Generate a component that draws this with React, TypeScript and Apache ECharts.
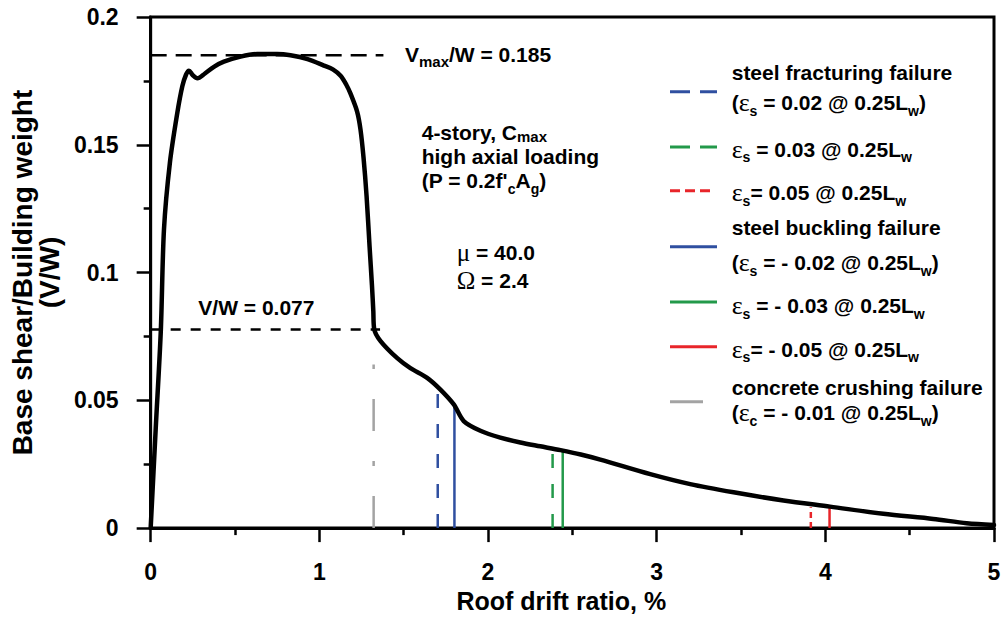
import React, { useEffect, useRef } from "react";
import * as echarts from "echarts";

// ---------- data ----------
const driftTicks = [0, 1, 2, 3, 4, 5];
const shearTicks = [0, 0.05, 0.1, 0.15, 0.2];

// pushover curve: [roof drift ratio %, V/W]
const pushoverCurve: [number, number][] = [
  [0, 0], [0.03, 0.039], [0.06, 0.077], [0.079, 0.117], [0.114, 0.143],
  [0.158, 0.1625], [0.188, 0.173], [0.21, 0.1775], [0.227, 0.179], [0.25, 0.1772],
  [0.277, 0.176], [0.32, 0.1778], [0.375, 0.1805], [0.434, 0.1825], [0.533, 0.1845],
  [0.632, 0.1855], [0.75, 0.1855], [0.829, 0.185], [0.93, 0.1835], [1.027, 0.181],
  [1.08, 0.1795], [1.126, 0.177], [1.16, 0.1735], [1.185, 0.17], [1.224, 0.163],
  [1.244, 0.156], [1.262, 0.145], [1.28, 0.13], [1.298, 0.11], [1.312, 0.095],
  [1.32, 0.085], [1.325, 0.078], [1.363, 0.0732], [1.462, 0.0665], [1.54, 0.0626],
  [1.639, 0.0588], [1.718, 0.0542], [1.797, 0.0484], [1.856, 0.0419], [1.955, 0.0381],
  [2.073, 0.0354], [2.192, 0.0335], [2.31, 0.032], [2.43, 0.0305], [2.55, 0.0288],
  [2.666, 0.0268], [2.962, 0.0211], [3.199, 0.0172], [3.456, 0.014], [3.752, 0.0108],
  [4.028, 0.0084], [4.344, 0.0056], [4.64, 0.0036], [4.838, 0.0019], [5, 0.0012],
];

const vMax = 0.185;
const vMaxLineEnd = 1.38;
const vResidual = 0.0777;
const vResidualLineEnd = 1.36;

// steel fracturing failure (dashed) drift and curve height
const fractureDrift = [1.702, 2.383, 3.914];
const fractureTop = [0.0549, 0.031, 0.0082];
// steel buckling failure (solid)
const bucklingDrift = [1.801, 2.443, 4.025];
const bucklingTop = [0.0477, 0.0305, 0.0088];
// concrete crushing failure
const crushingDrift = 1.322;
const crushingTop = 0.064;

const strainLabels = ["0.02", "0.03", "0.05"];
const failureColors = ["#2f4fa0", "#23994a", "#e8252a"];
const crushColor = "#a3a3a3";

const F = "Liberation Sans";

function makeRich(lh: number): any {
  return {
    n: { fontFamily: F, fontWeight: "bold", fontSize: 21, lineHeight: lh, fill: "#000" },
    s: { fontFamily: F, fontWeight: "bold", fontSize: 14, lineHeight: 14, padding: [16, 0, 0, 0], fill: "#000" },
    m: { fontFamily: F, fontWeight: "bold", fontSize: 15, lineHeight: 15, padding: [14, 0, 0, 0], fill: "#000" },
    m2: { fontFamily: F, fontWeight: "bold", fontSize: 15, lineHeight: 15, padding: [7, 0, 0, 0], fill: "#000" },
    e: { fontFamily: "Liberation Serif", fontSize: 26, lineHeight: lh, fill: "#000" },
    g: { fontFamily: "Liberation Serif", fontSize: 25, lineHeight: lh, fill: "#000" },
  };
}
const richStd = makeRich(22);

function txt(x: number, baseline: number, text: string, rich: any = richStd) {
  return {
    type: "text",
    x,
    y: baseline - 7.5,
    silent: true,
    z: 20,
    style: { text, rich, align: "left", verticalAlign: "middle", fill: "#000" },
  };
}

function swatch(y: number, color: string, dash: number[] | null, x2 = 717) {
  return {
    type: "line",
    silent: true,
    z: 20,
    shape: { x1: 670, y1: y, x2, y2: y },
    style: { stroke: color, lineWidth: 3, lineDash: dash || undefined },
  };
}

export default function App() {
  const ref = useRef<HTMLDivElement>(null);

  useEffect(() => {
    if (!ref.current) return;
    const chart = echarts.init(ref.current, null, { renderer: "svg" });

    const vertical = (name: string, x: number, top: number, color: string, type: any, w = 2.5) => ({
      name,
      type: "line",
      data: [[x, 0], [x, top]],
      symbol: "none",
      z: 3,
      lineStyle: { color, width: w, type },
      silent: true,
    });

    const series: any[] = [];
    fractureDrift.forEach((d, i) => {
      series.push(
        vertical(
          `steel fracturing εs = ${strainLabels[i]}`,
          d,
          fractureTop[i],
          failureColors[i],
          i === 2 ? [6, 4] : [14, 16]
        )
      );
    });
    bucklingDrift.forEach((d, i) => {
      series.push(vertical(`steel buckling εs = -${strainLabels[i]}`, d, bucklingTop[i], failureColors[i], "solid"));
    });
    series.push(vertical("concrete crushing εc = -0.01", crushingDrift, crushingTop, crushColor, [32, 30, 5, 30]));
    series.push({
      name: "Vmax/W",
      type: "line",
      data: [[0, vMax], [vMaxLineEnd, vMax]],
      symbol: "none",
      z: 4,
      lineStyle: { color: "#000", width: 2.5, type: [16, 9] },
      silent: true,
    });
    series.push({
      name: "V/W residual",
      type: "line",
      data: [[0, vResidual], [vResidualLineEnd, vResidual]],
      symbol: "none",
      z: 4,
      lineStyle: { color: "#000", width: 2.5, type: [10, 10] },
      silent: true,
    });
    series.push({
      name: "Pushover curve",
      type: "line",
      data: pushoverCurve,
      symbol: "none",
      smooth: 0.3,
      z: 10,
      lineStyle: { color: "#000", width: 4.5, cap: "round", join: "round" },
      silent: true,
    });

    const graphic: any[] = [
      txt(405, 61.7, "{n|V}{m|max}{n|/W = 0.185}"),
      txt(421.7, 140, "{n|4-story, C}{m2|max}"),
      txt(421.7, 164, "{n|high axial loading}"),
      txt(421.7, 188, "{n|(P = 0.2f'}{s|c}{n|A}{s|g}{n|)}"),
      txt(456.7, 260, "{g|μ}{n| = 40.0}"),
      txt(456.7, 288, "{g|Ω}{n| = 2.4}"),
      txt(198.3, 315, "{n|V/W = 0.077}"),

      txt(731.7, 80, "{n|steel fracturing failure}"),
      txt(731.7, 110, "{n|(}{e|ε}{s|s}{n| = 0.02 @ 0.25L}{s|w}{n|)}"),
      txt(731.7, 156.7, "{e|ε}{s|s}{n| = 0.03 @ 0.25L}{s|w}"),
      txt(731.7, 200, "{e|ε}{s|s}{n|= 0.05 @ 0.25L}{s|w}"),
      txt(731.7, 235, "{n|steel buckling failure}"),
      txt(731.7, 270, "{n|(}{e|ε}{s|s}{n| = - 0.02 @ 0.25L}{s|w}{n|)}"),
      txt(731.7, 313.3, "{e|ε}{s|s}{n| = - 0.03 @ 0.25L}{s|w}"),
      txt(731.7, 356.7, "{e|ε}{s|s}{n|= - 0.05 @ 0.25L}{s|w}"),
      txt(731.7, 395, "{n|concrete crushing failure}"),
      txt(731.7, 420, "{n|(}{e|ε}{s|c}{n| = - 0.01 @ 0.25L}{s|w}{n|)}"),

      swatch(91.7, failureColors[0], [20, 10]),
      swatch(147, failureColors[1], [20, 10]),
      swatch(190.7, failureColors[2], [10, 5], 710),
      swatch(246.7, failureColors[0], null),
      swatch(302, failureColors[1], null),
      swatch(346.7, failureColors[2], null),
      swatch(401.7, crushColor, null, 703),
    ];

    chart.setOption({
      animation: false,
      backgroundColor: "#fff",
      grid: {
        left: 150,
        right: 10,
        top: 17,
        bottom: 87,
        containLabel: false,
        show: true,
        borderColor: "#000",
        borderWidth: 3,
        backgroundColor: "transparent",
      },
      xAxis: {
        type: "value",
        min: driftTicks[0],
        max: driftTicks[driftTicks.length - 1],
        interval: 1,
        name: "Roof drift ratio, %",
        nameLocation: "middle",
        nameGap: 59,
        nameTextStyle: {
          fontFamily: F,
          fontWeight: "bold",
          fontSize: 25,
          lineHeight: 25,
          color: "#000",
          verticalAlign: "top",
          padding: [0, 22, 0, 0],
        },
        axisLine: { show: true, lineStyle: { color: "#000", width: 3 } },
        axisTick: { show: true, inside: false, length: 14, lineStyle: { color: "#000", width: 2.5 } },
        minorTick: { show: true, splitNumber: 2, length: 7, lineStyle: { color: "#000", width: 2.5 } },
        splitLine: { show: false },
        axisLabel: {
          margin: 32,
          fontFamily: F,
          fontWeight: "bold",
          fontSize: 23,
          lineHeight: 23,
          color: "#000",
          formatter: (v: number) => String(v),
        },
      },
      yAxis: {
        type: "value",
        min: shearTicks[0],
        max: shearTicks[shearTicks.length - 1],
        interval: 0.05,
        name: "Base shear/Building weight\n(V/W)",
        nameLocation: "middle",
        nameGap: 88,
        nameTextStyle: {
          fontFamily: F,
          fontWeight: "bold",
          fontSize: 28,
          lineHeight: 27,
          color: "#000",
        },
        axisLine: { show: true, lineStyle: { color: "#000", width: 3 } },
        axisTick: { show: true, inside: false, length: 14, lineStyle: { color: "#000", width: 2.5 } },
        minorTick: { show: true, splitNumber: 2, length: 7, lineStyle: { color: "#000", width: 2.5 } },
        splitLine: { show: false },
        axisLabel: {
          margin: 32,
          fontFamily: F,
          fontWeight: "bold",
          fontSize: 23,
          color: "#000",
        },
      },
      series,
      graphic,
    });

    return () => chart.dispose();
  }, []);

  return (
    <div
      ref={ref}
      style={{ position: "absolute", left: 0, top: 0, width: 1004, height: 618, background: "#fff" }}
    />
  );
}
